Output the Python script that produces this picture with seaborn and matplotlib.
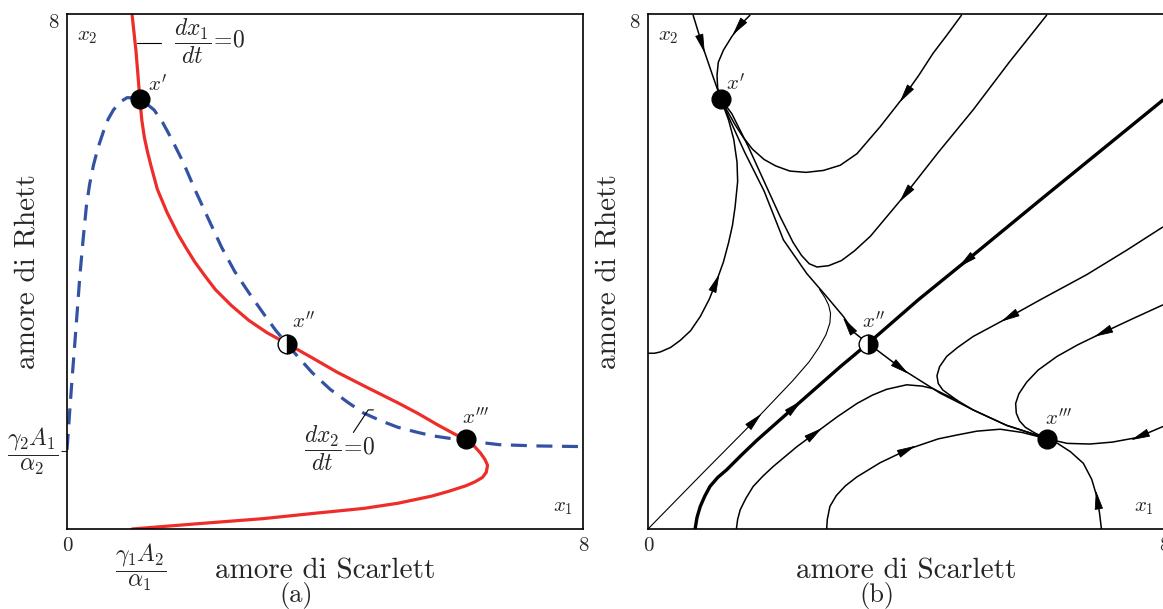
import numpy as np
import matplotlib
matplotlib.use("Agg")
import matplotlib.pyplot as plt
import seaborn as sns

# ---- panel (a): nullclines ----
red_x = [1.01, 1.04, 1.07, 1.10, 1.13, 1.16, 1.20, 1.25, 1.30, 1.40, 1.55, 1.72, 1.85,
         1.98, 2.14, 2.30, 2.55, 2.82, 3.10, 3.41, 3.80, 4.18, 4.65, 5.13, 5.45, 5.76,
         6.00, 6.19, 6.32, 6.41, 6.48, 6.52, 6.50, 6.44, 6.32, 6.18, 5.90, 5.65, 5.13,
         4.60, 3.80, 3.03, 2.00, 1.01]
red_y = [7.98, 7.70, 7.42, 7.05, 6.67, 6.35, 6.08, 5.85, 5.65, 5.28, 4.92, 4.58, 4.36,
         4.15, 3.93, 3.72, 3.47, 3.24, 3.05, 2.88, 2.66, 2.44, 2.20, 1.96, 1.79, 1.61,
         1.48, 1.38, 1.28, 1.18, 1.08, 0.99, 0.88, 0.80, 0.73, 0.67, 0.58, 0.51, 0.40,
         0.32, 0.24, 0.16, 0.08, 0.00]

blue_x = [0.00, 0.02, 0.04, 0.08, 0.12, 0.16, 0.20, 0.25, 0.30, 0.35, 0.41, 0.48, 0.57,
          0.64, 0.72, 0.82, 0.93, 1.03, 1.13, 1.24, 1.35, 1.48, 1.61, 1.80, 1.98, 2.20,
          2.40, 2.60, 2.82, 3.03, 3.24, 3.40, 3.55, 3.80, 4.08, 4.35, 4.60, 4.87, 5.13,
          5.40, 5.65, 5.92, 6.19, 6.45, 6.70, 7.30, 8.00]
blue_y = [1.23, 1.50, 1.80, 2.35, 2.87, 3.40, 3.94, 4.50, 5.01, 5.35, 5.65, 5.92, 6.19,
          6.37, 6.51, 6.63, 6.70, 6.70, 6.67, 6.60, 6.51, 6.32, 6.08, 5.70, 5.28, 4.80,
          4.37, 4.00, 3.67, 3.37, 3.08, 2.89, 2.71, 2.43, 2.17, 1.97, 1.80, 1.68, 1.58,
          1.51, 1.45, 1.41, 1.38, 1.34, 1.31, 1.29, 1.28]

# equilibria x', x'', x'''
eq_x = [1.13, 3.41, 6.19]
eq_y = [6.68, 2.88, 1.40]
eq_names = [r"$x'$", r"$x''$", r"$x'''$"]
eq_lab_x = [1.40, 3.67, 6.34]
eq_lab_y = [6.90, 3.22, 1.73]

# ---- panel (b): trajectories, points listed in the direction of motion ----
tr_a = [(0.70, 7.98), (0.85, 7.49), (1.00, 7.05), (1.13, 6.68)]
tr_b = [(1.58, 7.98), (1.45, 7.85), (1.30, 7.65), (1.17, 7.44), (1.09, 7.25),
        (1.07, 7.05), (1.08, 6.85), (1.13, 6.68)]
tr_c = [(4.86, 7.98), (4.64, 7.68), (4.42, 7.39), (4.20, 7.05), (3.96, 6.71),
        (3.60, 6.25), (3.24, 5.83), (2.98, 5.65), (2.72, 5.57), (2.45, 5.54),
        (2.20, 5.56), (1.98, 5.64), (1.80, 5.74), (1.62, 5.90), (1.48, 6.08),
        (1.35, 6.28), (1.22, 6.51), (1.13, 6.68)]
tr_d = [(6.18, 7.98), (5.60, 7.25), (5.04, 6.51), (4.50, 5.85), (3.96, 5.16),
        (3.45, 4.55), (3.20, 4.32), (3.00, 4.17), (2.80, 4.09), (2.62, 4.07),
        (2.50, 4.12), (2.38, 4.25), (2.25, 4.45), (2.05, 4.85), (1.80, 5.40),
        (1.55, 5.95), (1.30, 6.45), (1.13, 6.68)]
sad_in_lo = [(0.73, 0.00), (0.76, 0.18), (0.81, 0.35), (0.88, 0.51), (0.96, 0.66),
             (1.08, 0.80), (1.22, 0.92), (1.45, 1.15), (1.69, 1.38), (2.31, 1.93),
             (2.98, 2.52), (3.41, 2.88)]
sad_in_hi = [(7.98, 6.66), (6.08, 5.11), (4.89, 4.13), (4.19, 3.56), (3.41, 2.88)]
sad_out_up = [(3.41, 2.88), (3.20, 3.05), (3.03, 3.30), (2.77, 3.61), (2.46, 3.97),
              (2.10, 4.49), (1.80, 5.25), (1.50, 5.85), (1.25, 6.40), (1.13, 6.68)]
sad_out_dn = [(3.41, 2.88), (3.55, 2.78), (3.96, 2.47), (4.53, 2.11), (5.04, 1.85),
              (5.56, 1.61), (5.90, 1.50), (6.19, 1.40)]
tr_e = [(0.00, 0.00), (0.85, 0.87), (1.69, 1.72), (2.25, 2.31), (2.50, 2.60),
        (2.65, 2.82), (2.76, 3.02), (2.82, 3.20), (2.83, 3.35), (2.80, 3.48),
        (2.74, 3.60), (2.66, 3.72)]
tr_f = [(0.00, 2.73), (0.10, 2.73), (0.19, 2.75), (0.35, 2.82), (0.50, 2.93),
        (0.66, 3.08), (0.81, 3.30), (0.95, 3.57), (1.07, 3.87), (1.17, 4.15),
        (1.25, 4.45), (1.31, 4.72), (1.35, 5.00), (1.39, 5.40), (1.38, 5.70),
        (1.33, 6.05), (1.25, 6.35), (1.13, 6.68)]
tr_g = [(1.37, 0.00), (1.39, 0.15), (1.43, 0.30), (1.52, 0.48), (1.63, 0.66),
        (1.78, 0.82), (1.94, 0.97), (2.31, 1.28), (2.62, 1.51), (2.93, 1.74),
        (3.24, 1.95), (3.48, 2.08), (3.70, 2.17), (4.01, 2.24), (4.25, 2.22),
        (4.42, 2.18), (4.60, 2.09), (4.79, 2.00), (5.04, 1.85), (5.56, 1.61),
        (5.90, 1.50), (6.19, 1.40)]
tr_h = [(2.77, 0.00), (2.78, 0.15), (2.82, 0.35), (2.92, 0.52), (3.06, 0.67),
        (3.24, 0.81), (3.60, 1.03), (4.06, 1.25), (4.50, 1.40), (4.79, 1.46),
        (5.10, 1.52), (5.46, 1.55), (5.80, 1.50), (6.19, 1.40)]
tr_i = [(7.03, 0.00), (7.00, 0.25), (6.96, 0.50), (6.88, 0.77), (6.75, 1.02),
        (6.55, 1.20), (6.35, 1.33), (6.19, 1.40)]
tr_j = [(7.98, 1.59), (7.58, 1.42), (7.20, 1.35), (6.85, 1.32), (6.50, 1.33),
        (6.19, 1.40)]
tr_k = [(7.98, 3.48), (7.50, 3.26), (7.01, 3.03), (6.66, 2.86), (6.34, 2.68),
        (6.05, 2.47), (5.87, 2.28), (5.75, 2.10), (5.70, 1.95), (5.71, 1.80),
        (5.76, 1.68), (5.85, 1.58), (6.00, 1.49), (6.19, 1.40)]
tr_l = [(7.98, 4.69), (7.42, 4.33), (6.80, 3.95), (6.08, 3.56), (5.56, 3.27),
        (5.04, 2.99), (4.80, 2.82), (4.63, 2.68), (4.52, 2.52), (4.48, 2.38),
        (4.50, 2.26), (4.57, 2.16), (4.79, 2.00)]

thin_trajs = [tr_a, tr_b, tr_c, tr_d, sad_out_up, sad_out_dn, tr_f, tr_g, tr_h,
              tr_i, tr_j, tr_k, tr_l]
thick_trajs = [sad_in_lo, sad_in_hi]

# where the arrow heads sit (trajectory, point)
arrow_on = [(tr_a, (0.85, 7.49)), (tr_b, (1.37, 7.75)), (tr_c, (3.96, 6.71)),
            (tr_d, (3.96, 5.16)), (sad_in_hi, (4.89, 4.13)), (tr_l, (5.56, 3.27)),
            (tr_k, (7.01, 3.03)), (tr_j, (7.58, 1.42)), (tr_i, (6.96, 0.50)),
            (tr_h, (4.06, 1.25)), (tr_g, (2.62, 1.51)), (sad_in_lo, (2.31, 1.93)),
            (tr_e, (1.69, 1.72)), (tr_f, (1.07, 3.87)), (sad_out_up, (3.08, 3.20)),
            (sad_out_dn, (3.96, 2.47))]

eq_lab_x_b = [1.35, 3.49, 6.36]
eq_lab_y_b = [6.92, 3.22, 1.72]

RED = "#ee2d2a"
BLUE = "#3452a3"

sns.set_style("white")
plt.rcParams["font.family"] = ["cmr10", "DejaVu Serif"]
plt.rcParams["mathtext.fontset"] = "cm"
plt.rcParams["axes.unicode_minus"] = False

fig = plt.figure(figsize=(11.63, 6.09), dpi=100)
axL = fig.add_axes([67 / 1163, 80 / 609, 516 / 1163, 515 / 609])
axR = fig.add_axes([648 / 1163, 80 / 609, 516 / 1163, 515 / 609])


def mark_equilibria(ax):
    for k in range(3):
        if k == 1:
            ax.plot(eq_x[k], eq_y[k], "o", ms=13.5, fillstyle="right", markerfacecolor="k",
                    markerfacecoloralt="w", markeredgecolor="k", mew=1.0, zorder=10)
        else:
            ax.plot(eq_x[k], eq_y[k], "o", ms=13.5, color="k", zorder=10)


def add_arrow(ax, pts, at):
    pts = np.array(pts, dtype=float)
    at = np.array(at, dtype=float)
    best, u = 1e9, None
    for i in range(len(pts) - 1):
        p, q = pts[i], pts[i + 1]
        v = q - p
        t = np.clip(np.dot(at - p, v) / np.dot(v, v), 0, 1)
        dist = np.hypot(*(p + t * v - at))
        if dist < best:
            best, u = dist, v / np.hypot(*v)
    ax.annotate("", xy=at + 0.1 * u, xytext=at - 0.1 * u,
                arrowprops=dict(arrowstyle="-|>,head_length=1.0,head_width=0.22",
                                color="k", lw=0.6, shrinkA=0, shrinkB=0,
                                mutation_scale=12), zorder=6)


for ax in (axL, axR):
    ax.set_xlim(0, 8)
    ax.set_ylim(0, 8)
    ax.set_xticks([0, 8], ["0", "8"])
    ax.set_yticks([8], ["8"])
    ax.tick_params(length=0, labelsize=15, pad=6)
    for s in ax.spines.values():
        s.set_color("k")
        s.set_linewidth(1.2)
    ax.set_xlabel("amore di Scarlett", fontsize=21)
    ax.set_ylabel("amore di Rhett", fontsize=21)
    ax.xaxis.set_label_coords(0.5, -0.056)
    ax.yaxis.set_label_coords(-0.052, 0.5)
    ax.get_yticklabels()[0].set_va("top")
    ax.text(0.02, 0.955, r"$x_2$", transform=ax.transAxes, fontsize=15, ha="left", va="center")
    ax.text(0.98, 0.04, r"$x_1$", transform=ax.transAxes, fontsize=15, ha="right", va="center")

# ---- (a) ----
sns.lineplot(x=red_x, y=red_y, sort=False, estimator=None, color=RED, lw=2.3, ax=axL)
sns.lineplot(x=blue_x, y=blue_y, sort=False, estimator=None, color=BLUE, lw=2.3, ax=axL)
axL.lines[-1].set_dashes([5, 3])
mark_equilibria(axL)
for k in range(3):
    axL.text(eq_lab_x[k], eq_lab_y[k], eq_names[k], fontsize=15, ha="center", va="center")

axL.plot([1.08, 1.45], [7.55, 7.55], color="k", lw=0.8)
axL.text(1.66, 7.58, r"$\dfrac{dx_1}{dt}\!=\!0$", fontsize=17, ha="left", va="center")
axL.plot([4.44, 4.67, 4.75], [1.50, 1.85, 1.85], color="k", lw=0.8)
axL.text(3.68, 1.26, r"$\dfrac{dx_2}{dt}\!=\!0$", fontsize=17, ha="left", va="center")

axL.set_yticks([1.21], minor=True)
axL.tick_params(which="minor", length=4, width=0.8, direction="out", left=True)
axL.text(1.15, -0.075, r"$\dfrac{\gamma_1 A_2}{\alpha_1}$", transform=axL.get_xaxis_transform(),
         fontsize=17, ha="center", va="center")
axL.text(-0.066, 1.21, r"$\dfrac{\gamma_2 A_1}{\alpha_2}$", transform=axL.get_yaxis_transform(),
         fontsize=17, ha="center", va="center")
axL.text(0.444, -0.13, "(a)", transform=axL.transAxes, fontsize=19, ha="center", va="center")

# ---- (b) ----
for tr in thin_trajs:
    xs, ys = zip(*tr)
    sns.lineplot(x=list(xs), y=list(ys), sort=False, estimator=None, color="k", lw=1.1, ax=axR)
xs, ys = zip(*tr_e)
sns.lineplot(x=list(xs), y=list(ys), sort=False, estimator=None, color="k", lw=0.8, ax=axR)
for tr in thick_trajs:
    xs, ys = zip(*tr)
    sns.lineplot(x=list(xs), y=list(ys), sort=False, estimator=None, color="k", lw=2.4, ax=axR)
for tr, at in arrow_on:
    add_arrow(axR, tr, at)
mark_equilibria(axR)
for k in range(3):
    axR.text(eq_lab_x_b[k], eq_lab_y_b[k], eq_names[k], fontsize=15, ha="center", va="center")
axR.text(0.444, -0.13, "(b)", transform=axR.transAxes, fontsize=19, ha="center", va="center")

fig.savefig("out.png", dpi=100)
